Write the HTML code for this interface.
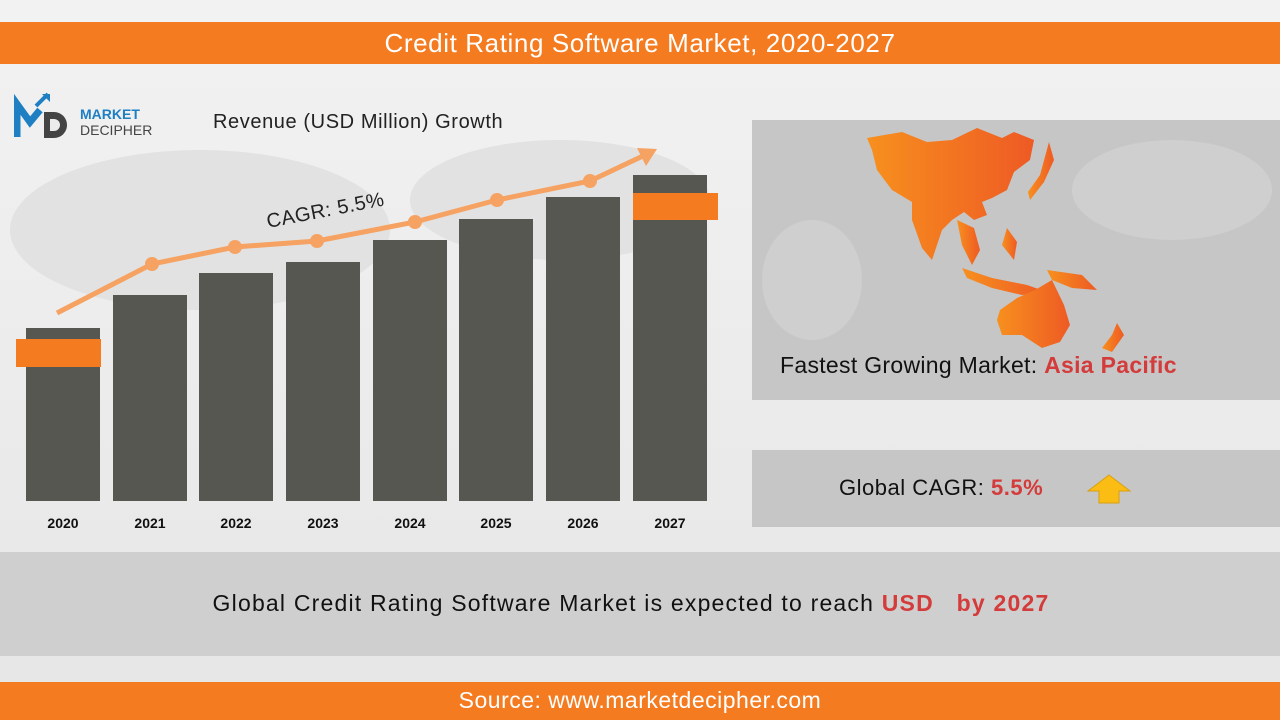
<!DOCTYPE html>
<html><head><meta charset="utf-8"><style>
body{margin:0;width:1280px;height:720px;overflow:hidden;background:#ececec;font-family:"Liberation Sans","DejaVu Sans",sans-serif;position:relative}
.abs{position:absolute}
</style></head><body>
<div class="abs" style="left:0;top:0;width:1280px;height:720px;background:linear-gradient(180deg,#f2f2f2,#e6e6e6)"></div>
<svg class="abs" style="left:0;top:0" width="1280" height="720">
<g fill="#e2e2e2">
<ellipse cx="200" cy="230" rx="190" ry="80"/>
<ellipse cx="560" cy="200" rx="150" ry="60"/>
</g>
</svg>
<div class="abs" style="left:0;top:22px;width:1280px;height:42px;background:#f47b20;color:#fff;font-size:26px;text-align:center;line-height:42px;letter-spacing:0.6px">Credit Rating Software Market, 2020-2027</div>
<svg class="abs" style="left:14px;top:92px" width="150" height="50">
<path d="M3 45 V12 L16 30 L26 18" stroke="#1e7fc2" stroke-width="7" fill="none"/>
<path d="M22 14 L34 2" stroke="#1e7fc2" stroke-width="4"/><path d="M28 2 H36 V10Z" fill="#1e7fc2"/>
<path d="M30 20 H40 A13 13 0 0 1 40 46 H30Z" fill="#444"/><path d="M36 27 H40 A6 6 0 0 1 40 39 H36Z" fill="#ececec"/>
<text x="66" y="27" font-size="14" font-weight="bold" fill="#1e7fc2" font-family="Liberation Sans">MARKET</text>
<text x="66" y="43" font-size="14" fill="#444" font-family="Liberation Sans">DECIPHER</text>
</svg>
<div class="abs" style="left:213px;top:111px;font-size:20px;color:#222;letter-spacing:0.6px">Revenue (USD Million) Growth</div>
<svg class="abs" style="left:0;top:0" width="760" height="545">
<g fill="#575752">
<rect x="26" y="328" width="74" height="173"/><rect x="113" y="295" width="74" height="206"/>
<rect x="199" y="273" width="74" height="228"/><rect x="286" y="262" width="74" height="239"/>
<rect x="373" y="240" width="74" height="261"/><rect x="459" y="219" width="74" height="282"/>
<rect x="546" y="197" width="74" height="304"/><rect x="633" y="175" width="74" height="326"/>
</g>
<rect x="16" y="339" width="85" height="28" fill="#f47b20"/>
<rect x="633" y="193" width="85" height="27" fill="#f47b20"/>
<polyline points="57,313 152,264 235,247 317,241 415,222 497,200 590,181 645,155" fill="none" stroke="#f5a262" stroke-width="5"/>
<path d="M657,149 L637,148 L646,166Z" fill="#f5a262"/>
<g fill="#f5a262"><circle cx="152" cy="264" r="7"/><circle cx="235" cy="247" r="7"/><circle cx="317" cy="241" r="7"/><circle cx="415" cy="222" r="7"/><circle cx="497" cy="200" r="7"/><circle cx="590" cy="181" r="7"/></g>
<text x="268" y="228" font-size="20" fill="#222" transform="rotate(-11 268 228)" font-family="Liberation Sans" letter-spacing="0.5">CAGR: 5.5%</text>
<g font-size="14" font-weight="bold" fill="#111" text-anchor="middle" font-family="Liberation Sans">
<text x="63" y="528">2020</text><text x="150" y="528">2021</text><text x="236" y="528">2022</text><text x="323" y="528">2023</text><text x="410" y="528">2024</text><text x="496" y="528">2025</text><text x="583" y="528">2026</text><text x="670" y="528">2027</text>
</g>
</svg>
<div class="abs" style="left:752px;top:120px;width:528px;height:280px;background:#c6c6c6"></div>
<svg class="abs" style="left:752px;top:120px" width="528" height="280">
<defs><linearGradient id="g" x1="0" x2="1"><stop offset="0" stop-color="#f7901e"/><stop offset="1" stop-color="#ee5a24"/></linearGradient></defs>
<g fill="#cfcfcf"><ellipse cx="420" cy="70" rx="100" ry="50"/><ellipse cx="60" cy="160" rx="50" ry="60"/></g>
<g fill="url(#g)">
<path d="M115 18 L150 12 L175 22 L200 20 L225 8 L250 18 L262 12 L282 20 L278 40 L262 52 L255 70 L240 78 L230 82 L235 95 L222 100 L212 92 L200 100 L190 110 L180 140 L170 128 L160 100 L160 82 L140 70 L125 50 L120 30Z"/>
<path d="M297 22 L302 40 L292 62 L278 80 L276 72 L288 55Z"/>
<path d="M205 100 L222 108 L228 130 L220 145 L210 125Z"/>
<path d="M210 148 L240 158 L275 165 L295 172 L270 175 L240 168 L215 158Z"/>
<path d="M255 108 L265 122 L262 140 L250 125Z"/>
<path d="M295 150 L330 155 L345 170 L320 168 L300 160Z"/>
<path d="M248 190 L265 178 L283 170 L300 160 L312 185 L318 205 L308 222 L290 228 L270 215 L250 215 L245 200Z"/>
<path d="M365 203 L372 215 L360 232 L350 228 L360 215Z"/>
</g>
</svg>
<div class="abs" style="left:780px;top:352px;font-size:23px;color:#111;letter-spacing:0.3px">Fastest Growing Market: <b style="color:#d43b3b">Asia Pacific</b></div>
<div class="abs" style="left:752px;top:450px;width:528px;height:77px;background:#c6c6c6"></div>
<div class="abs" style="left:839px;top:475px;font-size:22px;color:#111;letter-spacing:0.5px">Global CAGR: <b style="color:#d43b3b">5.5%</b></div>
<svg class="abs" style="left:1086px;top:473px" width="46" height="32"><path d="M23 2 L44 18 H33 V30 H13 V18 H2Z" fill="#fbbd14" stroke="#d9a010"/></svg>
<div class="abs" style="left:0;top:552px;width:1280px;height:104px;background:#cfcfcf"></div>
<div class="abs" style="left:0;top:590px;width:1262px;text-align:center;font-size:23px;color:#111;letter-spacing:1.2px">Global Credit Rating Software Market is expected to reach <b style="color:#d43b3b">USD &nbsp; by 2027</b></div>
<div class="abs" style="left:0;top:682px;width:1280px;height:38px;background:#f47b20;color:#fff;font-size:23px;text-align:center;line-height:36px;letter-spacing:0.5px">Source: www.marketdecipher.com</div>
</body></html>
